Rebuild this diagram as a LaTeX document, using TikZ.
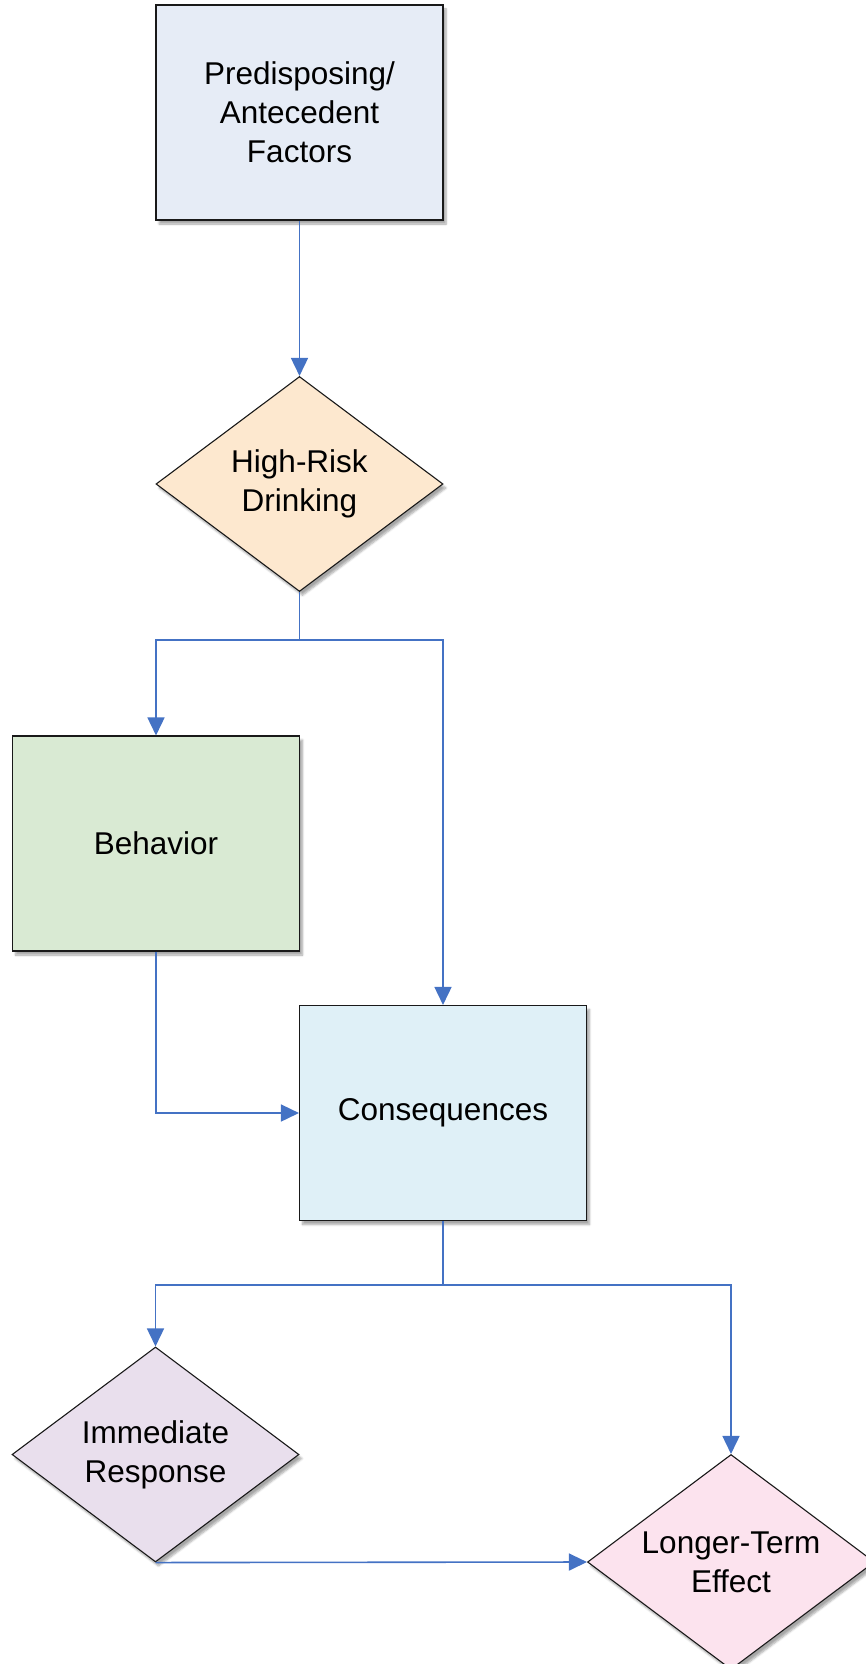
\documentclass[tikz,border=0pt]{standalone}
\usepackage{fontspec}
\setmainfont{Liberation Sans}
\usetikzlibrary{shapes.geometric,arrows.meta,shadows.blur}
\definecolor{arrowblue}{HTML}{4472C4}
\definecolor{fPre}{HTML}{E6ECF6}
\definecolor{fHigh}{HTML}{FDE8CF}
\definecolor{fBeh}{HTML}{D9EAD3}
\definecolor{fCon}{HTML}{DFF0F7}
\definecolor{fImm}{HTML}{E9DFED}
\definecolor{fLong}{HTML}{FCE3EE}
\tikzset{
  shadowed/.style={blur shadow={shadow xshift=3pt, shadow yshift=-4pt, shadow blur steps=6, shadow opacity=35}},
  boxnode/.style={rectangle, draw=black!90, line width=1.1pt, minimum width=287pt, minimum height=215pt, inner sep=0pt, align=center, font=\fontsize{31.5}{39}\selectfont, shadowed},
  dianode/.style={diamond, aspect=1.335, draw=black!90, line width=1.1pt, minimum width=287pt, minimum height=215pt, inner sep=0pt, align=center, font=\fontsize{31.5}{39}\selectfont, shadowed},
  conn/.style={draw=arrowblue, line width=1.6pt},
  arr/.style={conn, -{Triangle[length=18pt,width=17pt]}}
}
\begin{document}
\begin{tikzpicture}[x=1pt,y=-1pt]
\useasboundingbox (0,0) rectangle (865,1664);
\node[boxnode, fill=fPre] (pre) at (299.5,112.5) {Predisposing/\\Antecedent\\Factors};
\node[dianode, fill=fHigh] (high) at (299.5,484) {High-Risk\\Drinking};
\node[boxnode, fill=fBeh] (beh) at (156,843.5) {Behavior};
\node[boxnode, fill=fCon] (con) at (443,1113) {Consequences};
\node[dianode, fill=fImm] (imm) at (155.5,1454.5) {Immediate\\Response};
\node[dianode, fill=fLong] (long) at (731,1562) {Longer-Term\\Effect};
\coordinate (j1) at (299.5,640);
\coordinate (j2) at (443,1285);
\draw[arr] (pre.south) -- (high.north);
\draw[conn] (high.south) -- (j1);
\draw[arr] (j1) -| (beh.north);
\draw[arr] (j1) -| (con.north);
\draw[arr] (beh.south) |- (con.west);
\draw[conn] (con.south) -- (j2);
\draw[arr] (j2) -| (imm.north);
\draw[arr] (j2) -| (long.north);
\draw[arr] (imm.south) -- (long.west);
\end{tikzpicture}
\end{document}
